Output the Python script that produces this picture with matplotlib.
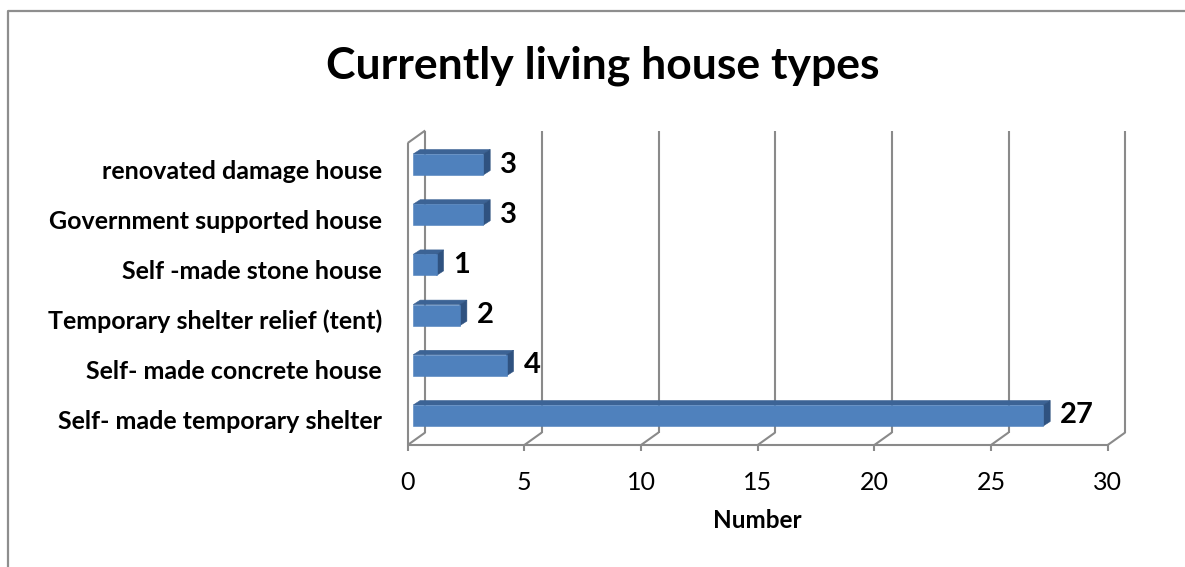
import matplotlib
matplotlib.use("Agg")
import matplotlib.pyplot as plt
from matplotlib.patches import Polygon
from matplotlib.lines import Line2D

# Survey results: type of house respondents currently live in (bottom to top)
categories = [
    "Self- made temporary shelter",
    "Self- made concrete house",
    "Temporary shelter relief (tent)",
    "Self -made stone house",
    "Government supported house",
    "renovated damage house",
]
counts = [27, 4, 2, 1, 3, 3]
x_ticks = [0, 5, 10, 15, 20, 25, 30]
title = "Currently living house types"
x_label = "Number"

plt.rcParams["font.family"] = ["Lato", "DejaVu Sans"]

W, H, DPI = 1185, 567, 100
fig = plt.figure(figsize=(W / DPI, H / DPI), dpi=DPI)
fig.patch.set_facecolor("white")

# Front plane of the pseudo-3D plot area (pixel geometry)
left_px, right_px, top_px, bottom_px = 407.7, 1107.7, 143, 445
ax = fig.add_axes([left_px / W, 1 - bottom_px / H,
                   (right_px - left_px) / W, (bottom_px - top_px) / H])
ax.set_xlim(x_ticks[0], x_ticks[-1])
ax.set_ylim(-0.508, len(categories) - 1 + 0.508)
ax.axis("off")

x0, x1 = ax.get_xlim()
y0, y1 = ax.get_ylim()
bb = ax.get_position()
sx = (x1 - x0) / (bb.width * W)   # data units per pixel, x
sy = (y1 - y0) / (bb.height * H)  # data units per pixel, y

# depth vectors (pixels): wall depth, bar front-face offset, bar thickness
DX, DY = 17.5 * sx, 12.5 * sy
FX, FY = 5.5 * sx, 4.0 * sy
BX, BY = 7.0 * sx, 4.5 * sy
half_h = 10.5 * sy

grid_kw = dict(color="#8a8a8a", lw=1.5, solid_capstyle="butt", clip_on=False, zorder=1)

def seg(xs, ys, **kw):
    ax.add_line(Line2D(xs, ys, **{**grid_kw, **kw}))

# back-wall gridlines and floor diagonals
for t in x_ticks:
    seg([t + DX, t + DX], [y0 + DY, y1 + DY])
    seg([t, t + DX], [y0, y0 + DY])
    seg([t, t], [y0, y0 - 6 * sy])
    ax.text(t, y0 - 37 * sy, str(t), ha="center", va="center",
            fontsize=18, color="black")
# front floor edge and left wall edges
seg([x0, x1], [y0, y0])
seg([x0, x0], [y0, y1])
seg([x0, x0 + DX], [y1, y1 + DY])

front_c, top_c, side_c = "#4F81BD", "#3C6395", "#2F5280"
for i, (cat, v) in enumerate(zip(categories, counts)):
    yc = i + FY
    xa, xb = 0 + FX, v + FX
    ya, yb = yc - half_h, yc + half_h
    front = [(xa, ya), (xb, ya), (xb, yb), (xa, yb)]
    top = [(xa, yb), (xb, yb), (xb + BX, yb + BY), (xa + BX, yb + BY)]
    side = [(xb, ya), (xb + BX, ya + BY), (xb + BX, yb + BY), (xb, yb)]
    for pts, c in ((top, top_c), (side, side_c), (front, front_c)):
        ax.add_patch(Polygon(pts, closed=True, facecolor=c, edgecolor=c,
                             lw=0.4, clip_on=False, zorder=3))
    ax.text(xb + BX + 10 * sx, yc, str(v), ha="left", va="center",
            fontsize=21, fontweight="bold", color="black", zorder=4)
    ax.text(x0 - 25.7 * sx, i - 2.5 * sy, cat, ha="right", va="center",
            fontsize=18, fontweight="bold", color="black")

ax.text((x0 + x1) / 2, y0 - 76 * sy, x_label, ha="center", va="center",
        fontsize=17.5, fontweight="bold", color="black")

fig.text(603 / W, 1 - 78 / H, title, ha="center", va="baseline",
         fontsize=32, fontweight="bold", color="black")

# chart-area border (left and top edges)
fig.add_artist(Line2D([8 / W, 8 / W, 1], [0, 1 - 11 / H, 1 - 11 / H],
                      transform=fig.transFigure, color="#8e8e8e", lw=1.6))

fig.savefig("out.png", dpi=DPI, facecolor="white")
